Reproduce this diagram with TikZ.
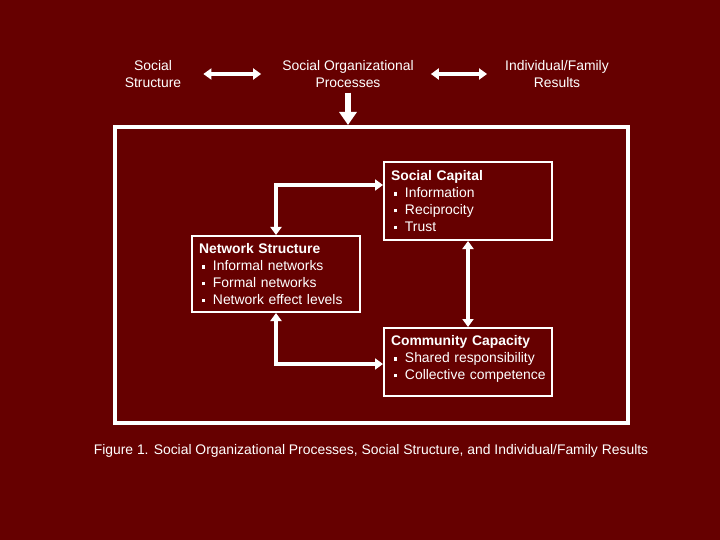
\documentclass[tikz,border=0pt]{standalone}
\usepackage{fontspec}
\setmainfont{Liberation Sans}
\usetikzlibrary{arrows.meta, positioning}

\definecolor{maroon}{RGB}{102,0,0}
\newcommand{\bitem}[1]{\mbox{\hspace{3pt}\rule[0.25ex]{0.24em}{0.24em}\hspace{0.55em}#1}}

\begin{document}
\begin{tikzpicture}[x=1pt, y=-1pt, font=\fontsize{13.9}{16.7}\selectfont,
    every node/.style={text=white},
    label/.style={align=center, inner sep=0pt},
    box/.style={draw=white, line width=2pt, text width=154pt, minimum width=168pt, align=left, inner sep=7pt},
    link/.style={white, line width=3.5pt, {Triangle[width=11pt,length=8pt]}-{Triangle[width=11pt,length=8pt]}}]

    % background
    \fill[maroon] (0,0) rectangle (720,540);
    \useasboundingbox (0,0) rectangle (720,540);

    \node[label] (ss)  at (153,74) {Social\\Structure};
    \node[label] (sop) at (348,74) {Social Organizational\\Processes};
    \node[label] (ifr) at (557,74) {Individual/Family\\Results};

    \node[draw=white, line width=4pt, minimum width=513pt, minimum height=296pt] (frame) at (371.5,275) {};

    \node[box, minimum height=78pt] (sc) at (468,201)
        {\textbf{Social Capital}\\\bitem{Information}\\\bitem{Reciprocity}\\\bitem{Trust}};
    \node[box, minimum height=76pt] (ns) at (276,274)
        {\textbf{Network Structure}\\\bitem{Informal networks}\\\bitem{Formal networks}\\\bitem{Network effect levels}};
    \node[box, minimum height=68pt] (cc) at (468,362)
        {\textbf{Community Capacity}\\\bitem{Shared responsibility}\\\bitem{Collective competence}\par\vspace*{6pt}};

    \node (cap) at (371,451)
        {Figure 1. Social Organizational Processes, Social Structure, and Individual/Family Results};

    \draw[link, shorten <=22pt, shorten >=21pt] (ss) -- (sop);
    \draw[link, shorten <=17pt, shorten >=18pt] (sop) -- (ifr);
    \draw[white, line width=6pt, -{Triangle[width=17pt,length=13pt]}, shorten <=5pt] (sop.south) -- (sop.south |- frame.north);

    \draw[link] (ns.north) |- ([yshift=16pt]sc.west);
    \draw[link] (sc.south) -- (cc.north);
    \draw[link] (ns.south) |- ([yshift=-2pt]cc.west);

\end{tikzpicture}
\end{document}
